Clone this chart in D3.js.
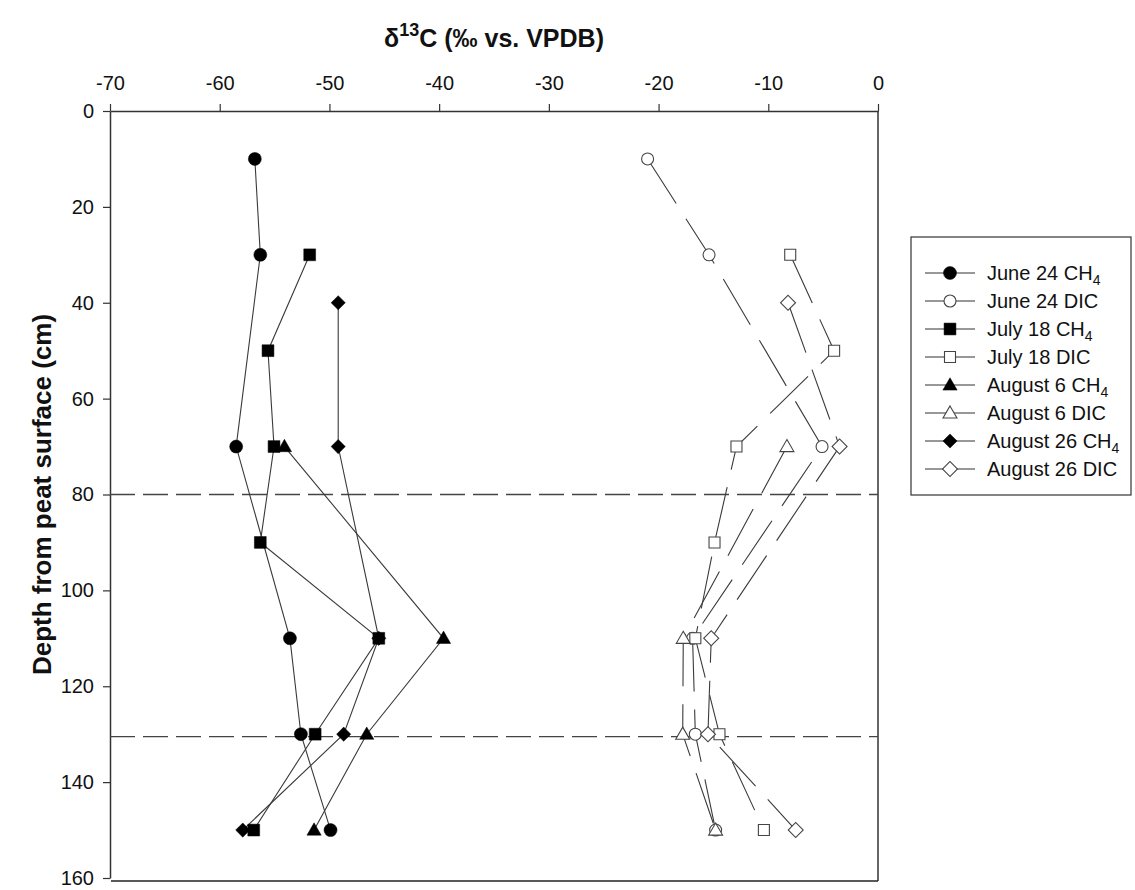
<!DOCTYPE html>
<html>
<head>
<meta charset="utf-8">
<script src="https://cdn.jsdelivr.net/npm/d3@7"></script>
<style>
  html, body { margin: 0; padding: 0; background: #fff; }
  svg { display: block; font-family: Arial, "Liberation Sans", Helvetica, sans-serif; }
</style>
</head>
<body>
<svg id="chart" width="1135" height="890"></svg>
<script>
// δ13C depth profiles of porewater CH4 and DIC, four sampling dates
const d13cTicks = [-70, -60, -50, -40, -30, -20, -10, 0];
const depthTicks = [0, 20, 40, 60, 80, 100, 120, 140, 160];
const referenceDepths = [80, 130.5];

const june24Depth = [10, 30, 70, 110, 130, 150];
const june24CH4 = [-56.8, -56.3, -58.5, -53.6, -52.6, -49.9];
const june24DIC = [-21.0, -15.4, -5.1, -16.9, -16.65, -14.8];

const july18Depth = [30, 50, 70, 90, 110, 130, 150];
const july18CH4 = [-51.8, -55.6, -55.05, -56.3, -45.5, -51.3, -56.9];
const july18DIC = [-8.0, -4.0, -12.9, -14.9, -16.65, -14.45, -10.4];

const aug6Depth = [70, 110, 130, 150];
const aug6CH4 = [-54.1, -39.6, -46.6, -51.4];
const aug6DIC = [-8.3, -17.75, -17.8, -14.8];

const aug26Depth = [40, 70, 110, 130, 150];
const aug26CH4 = [-49.2, -49.2, -45.5, -48.7, -57.9];
const aug26DIC = [-8.2, -3.5, -15.2, -15.5, -7.5];

const seriesNames = ["June 24", "June 24", "July 18", "July 18", "August 6", "August 6", "August 26", "August 26"];
const seriesGas = ["CH", "DIC", "CH", "DIC", "CH", "DIC", "CH", "DIC"];

const series = [
  { depths: june24Depth, values: june24CH4, shape: "circle",   filled: true  },
  { depths: june24Depth, values: june24DIC, shape: "circle",   filled: false },
  { depths: july18Depth, values: july18CH4, shape: "square",   filled: true  },
  { depths: july18Depth, values: july18DIC, shape: "square",   filled: false },
  { depths: aug6Depth,   values: aug6CH4,   shape: "triangle", filled: true  },
  { depths: aug6Depth,   values: aug6DIC,   shape: "triangle", filled: false },
  { depths: aug26Depth,  values: aug26CH4,  shape: "diamond",  filled: true  },
  { depths: aug26Depth,  values: aug26DIC,  shape: "diamond",  filled: false }
].map((s, i) => ({ ...s, name: seriesNames[i], gas: seriesGas[i] }));

const svg = d3.select("#chart");
const plotLeft = 110, plotRight = 878, plotTop = 111, plotBottom = 878;

const x = d3.scaleLinear().domain([-70, 0]).range([plotLeft, plotRight]);
const y = d3.scaleLinear().domain([0, 160]).range([plotTop, plotBottom]);

// marker shapes
function markerPath(shape, filled) {
  const sizes = filled
    ? { circle: 133, square: 140, triangle: 88, diamond: 100 }
    : { circle: 113, square: 121, triangle: 84, diamond: 112 };
  const t = { circle: d3.symbolCircle, square: d3.symbolSquare, triangle: d3.symbolTriangle, diamond: d3.symbolSquare }[shape];
  return d3.symbol().type(t).size(sizes[shape])();
}
function markerTransform(shape, px, py) {
  if (shape === "diamond") return `translate(${px},${py}) rotate(45)`;
  if (shape === "triangle") return `translate(${px},${py + 1})`;
  return `translate(${px},${py})`;
}

// axes (plain hyphen-minus in tick labels)
const fmt = d => String(d);
const xAxis = d3.axisTop(x).tickValues(d13cTicks).tickFormat(fmt).tickSize(7).tickSizeOuter(0).tickPadding(14);
const yAxis = d3.axisLeft(y).tickValues(depthTicks).tickFormat(fmt).tickSize(7).tickSizeOuter(0).tickPadding(9);

const gx = svg.append("g").attr("transform", `translate(0,${plotTop})`).call(xAxis);
const gy = svg.append("g").attr("transform", `translate(${plotLeft},0)`).call(yAxis);
[gx, gy].forEach(g => {
  g.select(".domain").attr("stroke", "#333").attr("stroke-width", 1.5);
  g.selectAll(".tick line").attr("stroke", "#333").attr("stroke-width", 1.2);
  g.selectAll(".tick text").attr("fill", "#111").style("font-size", "20px").style("font-family", "Arial, 'Liberation Sans', sans-serif");
});

// right and bottom frame
svg.append("line").attr("x1", plotRight).attr("x2", plotRight).attr("y1", plotTop).attr("y2", plotBottom + 3)
  .attr("stroke", "#333").attr("stroke-width", 1.5);
svg.append("line").attr("x1", plotLeft + 1).attr("x2", plotRight).attr("y1", plotBottom + 3).attr("y2", plotBottom + 3)
  .attr("stroke", "#222").attr("stroke-width", 1.5);

// reference depths
svg.selectAll(".ref").data(referenceDepths).enter().append("line")
  .attr("x1", plotLeft).attr("x2", plotRight)
  .attr("y1", d => y(d)).attr("y2", d => y(d))
  .attr("stroke", "#444").attr("stroke-width", 1.3).attr("stroke-dasharray", "25,8");

// profile lines
const line = d3.line().x(d => x(d[1])).y(d => y(d[0]));
series.forEach(s => {
  const pts = s.depths.map((d, i) => [d, s.values[i]]);
  svg.append("path").attr("d", line(pts))
    .attr("fill", "none").attr("stroke", "#3a3a3a").attr("stroke-width", 1.1)
    .attr("stroke-dasharray", s.filled ? null : "53,18");
});

// markers
series.forEach(s => {
  s.depths.forEach((d, i) => {
    svg.append("path")
      .attr("d", markerPath(s.shape, s.filled))
      .attr("transform", markerTransform(s.shape, x(s.values[i]), y(d)))
      .attr("fill", s.filled ? "#000" : "#fff")
      .attr("stroke", s.filled ? "#000" : "#444")
      .attr("stroke-width", s.filled ? 0.5 : 1.1);
  });
});

// axis titles
const title = svg.append("text").attr("x", (plotLeft + plotRight) / 2).attr("y", 47)
  .attr("text-anchor", "middle").style("font-size", "25px").style("font-weight", "bold").attr("fill", "#111");
title.append("tspan").text("δ");
title.append("tspan").attr("dy", -11).style("font-size", "18px").text("13");
title.append("tspan").attr("dy", 11).text("C (‰ vs. VPDB)");

svg.append("text")
  .attr("transform", `translate(51,${(plotTop + plotBottom) / 2}) rotate(-90)`)
  .attr("text-anchor", "middle").style("font-size", "26px").style("font-weight", "bold").attr("fill", "#111")
  .text("Depth from peat surface (cm)");

// legend
const lg = svg.append("g");
const lgX = 911, lgY = 237, lgW = 220, lgH = 258, rowH = 28, row0 = 273;
lg.append("rect").attr("x", lgX).attr("y", lgY).attr("width", lgW).attr("height", lgH)
  .attr("fill", "#fff").attr("stroke", "#333").attr("stroke-width", 1.2);
series.forEach((s, i) => {
  const cy = row0 + i * rowH;
  lg.append("line").attr("x1", 925).attr("x2", 975).attr("y1", cy).attr("y2", cy)
    .attr("stroke", "#333").attr("stroke-width", 1.1);
  lg.append("path").attr("d", markerPath(s.shape, s.filled))
    .attr("transform", markerTransform(s.shape, 950, cy))
    .attr("fill", s.filled ? "#000" : "#fff")
    .attr("stroke", s.filled ? "#000" : "#444")
    .attr("stroke-width", s.filled ? 0.5 : 1.1);
  const t = lg.append("text").attr("x", 987).attr("y", cy + 7)
    .style("font-size", "20px").attr("fill", "#111");
  t.append("tspan").text(`${s.name} ${s.gas}`);
  if (s.gas === "CH") t.append("tspan").attr("dy", 5).style("font-size", "14px").text("4");
});
</script>
</body>
</html>
